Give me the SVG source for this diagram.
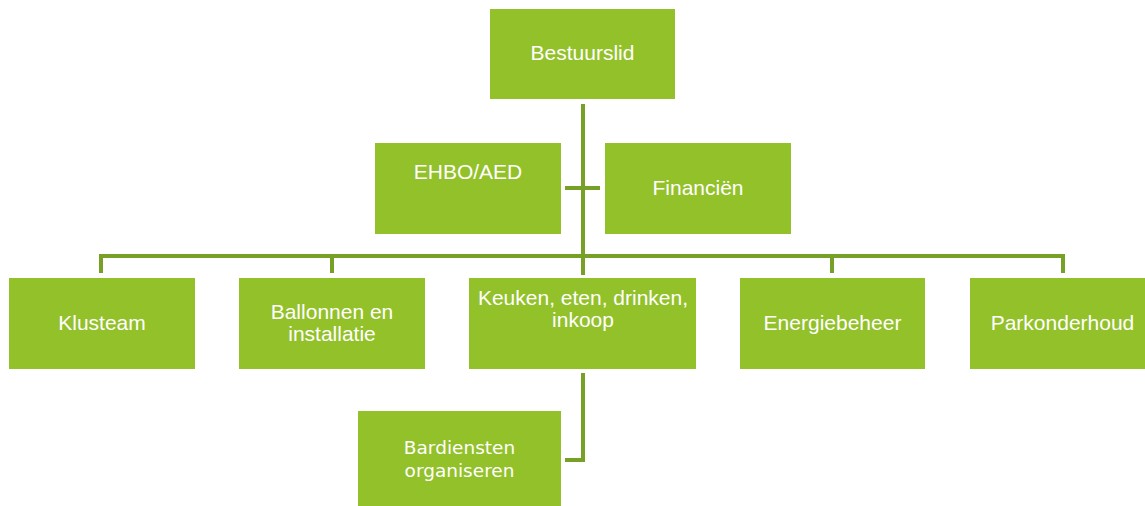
<svg xmlns="http://www.w3.org/2000/svg" width="1145" height="506" viewBox="0 0 1145 506">
<style>
.box{fill:#93C12A;}
.t{font-family:"Liberation Sans",Arial,sans-serif;font-size:21px;fill:#FFFFFF;text-anchor:middle;}
.t2{font-family:"DejaVu Sans",sans-serif;font-size:18.5px;fill:#FFFFFF;text-anchor:middle;}
.c{fill:none;stroke:#77A026;stroke-width:4;stroke-linejoin:miter;}
</style>
<rect width="1145" height="506" fill="#FFFFFF"/>
<g id="connectors">
<path class="c" d="M583 104 V275"/>
<path class="c" d="M565 188 H600"/>
<path class="c" d="M101 273 V256 H1063 V273"/>
<path class="c" d="M332 256 V273"/>
<path class="c" d="M832 256 V273"/>
<path class="c" d="M583 373 V460 H565"/>
</g>
<g id="bestuurslid"><rect class="box" x="490" y="9" width="185" height="90"/><text class="t" x="582.5" y="60">Bestuurslid</text></g>
<g id="ehbo"><rect class="box" x="375" y="143" width="186" height="91"/><text class="t" x="468" y="179">EHBO/AED</text></g>
<g id="financien"><rect class="box" x="605" y="143" width="186" height="91"/><text class="t" x="698" y="195">Financiën</text></g>
<g id="klusteam"><rect class="box" x="9" y="278" width="186" height="91"/><text class="t" x="102" y="330">Klusteam</text></g>
<g id="ballonnen"><rect class="box" x="239" y="278" width="186" height="91"/><text class="t" x="332" y="319">Ballonnen en</text><text class="t" x="332" y="341">installatie</text></g>
<g id="keuken"><rect class="box" x="469" y="278" width="227" height="91"/><text class="t" x="583" y="305">Keuken, eten, drinken,</text><text class="t" x="583" y="327">inkoop</text></g>
<g id="energiebeheer"><rect class="box" x="740" y="278" width="185" height="91"/><text class="t" x="832.5" y="330">Energiebeheer</text></g>
<g id="parkonderhoud"><rect class="box" x="970" y="278" width="185" height="91"/><text class="t" x="1062.5" y="330">Parkonderhoud</text></g>
<g id="bardiensten"><rect class="box" x="358" y="411" width="203" height="95"/><text class="t2" x="459.5" y="454">Bardiensten</text><text class="t2" x="459.5" y="477">organiseren</text></g>
</svg>
